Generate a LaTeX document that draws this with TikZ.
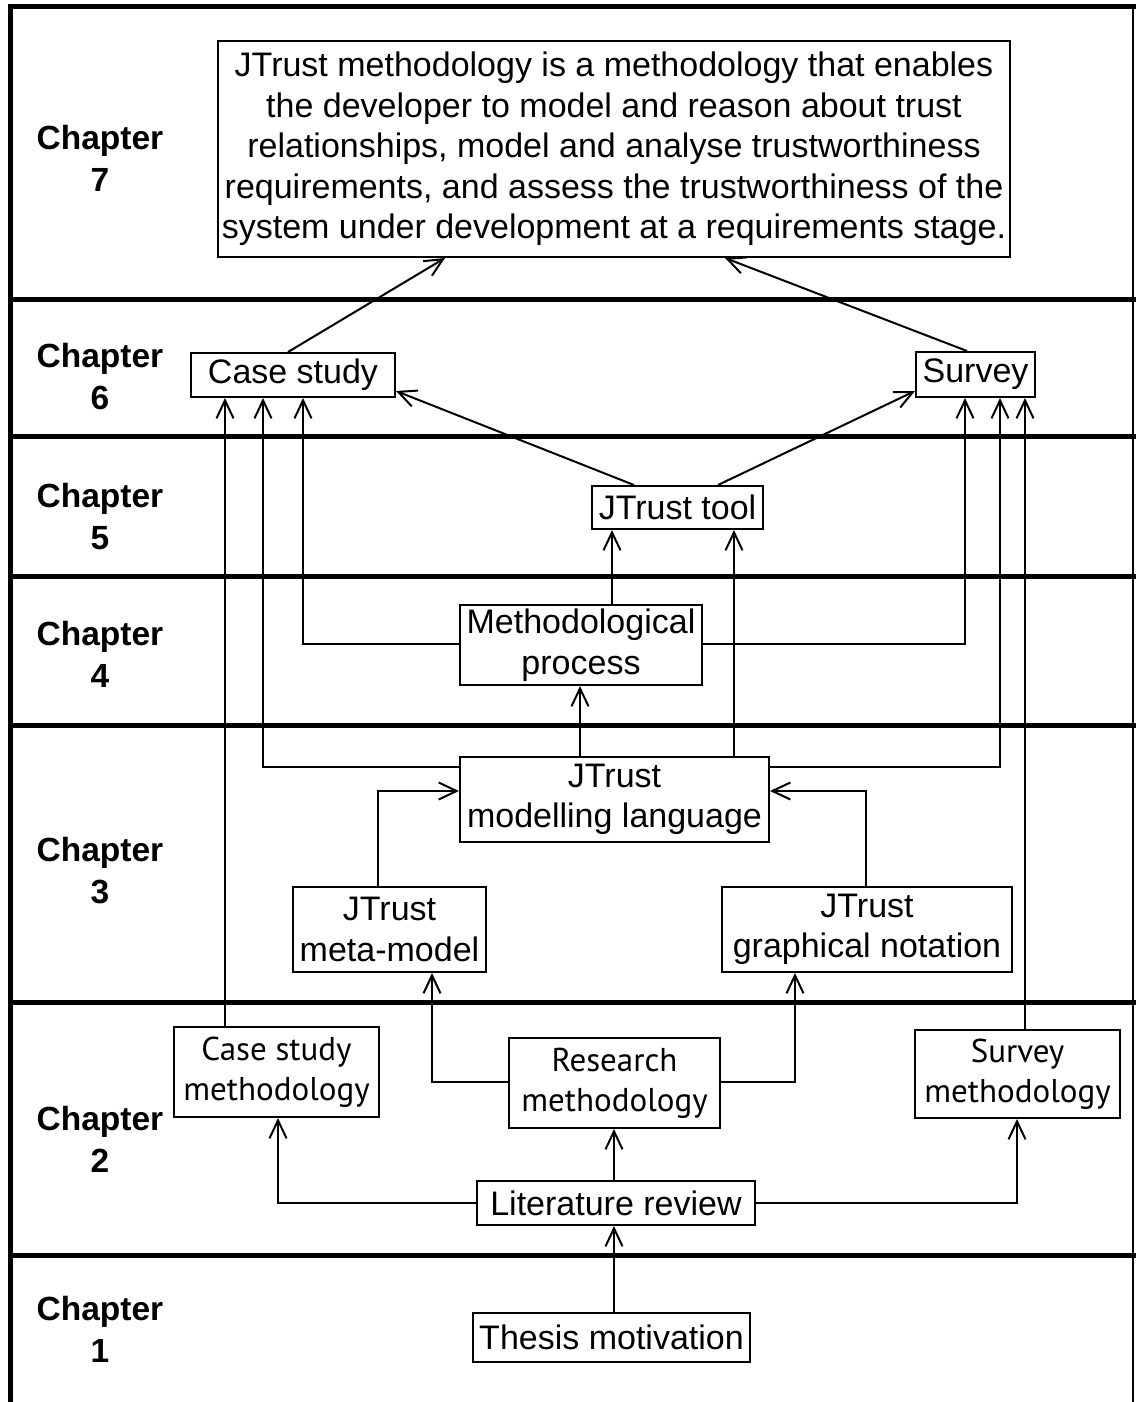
\documentclass[tikz,border=0pt]{standalone}
\usepackage{fontspec}
\setmainfont{Liberation Sans}
\newfontfamily\humanist{PT Sans}
\usetikzlibrary{arrows.meta}
\begin{document}
\begin{tikzpicture}[x=1pt,y=-1pt,
  box/.style={draw, line width=2pt, inner sep=0pt, align=center,
    font=\fontsize{34}{40.5}\selectfont},
  hbox/.style={box, font=\humanist\fontsize{33}{40}\selectfont},
  chap/.style={align=center, font=\bfseries\fontsize{33.5}{42}\selectfont},
  arr/.style={line width=2pt, -{Straight Barb[length=18pt,width=17pt]}},
  frame/.style={line width=5pt},
]
\useasboundingbox (0,0) rectangle (1136,1402);

% outer frame and chapter bands
\draw[frame] (10,1402) -- (10,7) -- (1136,7);
\draw[line width=2.5pt] (1133,7) -- (1133,1402);
\foreach \y in {299,436,576,725,1002,1255}
  \draw[frame] (8,\y) -- (1136,\y);

% chapter labels
\node[chap] (c7) at (100,158) {Chapter\\7};
\node[chap] (c6) at (100,377) {Chapter\\6};
\node[chap] (c5) at (100,517) {Chapter\\5};
\node[chap] (c4) at (100,654) {Chapter\\4};
\node[chap] (c3) at (100,871) {Chapter\\3};
\node[chap] (c2) at (100,1139) {Chapter\\2};
\node[chap] (c1) at (100,1329) {Chapter\\1};

% boxes
\node[box, minimum width=792pt, minimum height=216pt] (top) at (614,149)
  {JTrust methodology is a methodology that enables\\
   the developer to model and reason about trust\\
   relationships, model and analyse trustworthiness\\
   requirements, and assess the trustworthiness of the\\
   system under development at a requirements stage.};
\node[box, minimum width=204pt, minimum height=44pt] (cs) at (293,375) {Case study};
\node[box, minimum width=119pt, minimum height=45pt] (sv) at (975.5,374.5) {Survey};
\node[box, minimum width=171pt, minimum height=43pt] (tool) at (677.5,507.5) {JTrust tool};
\node[box, minimum width=242pt, minimum height=80pt] (mp) at (581,645) {Methodological\\process};
\node[box, minimum width=309pt, minimum height=85pt] (ml) at (614.5,799.5) {JTrust\\modelling language};
\node[box, minimum width=193pt, minimum height=85pt] (mm) at (389.5,929.5) {JTrust\\meta-model};
\node[box, minimum width=290pt, minimum height=85pt] (gn) at (867,929.5) {JTrust\\graphical notation};
\node[hbox, minimum width=205pt, minimum height=90pt] (csm) at (276.5,1072) {Case study\\methodology};
\node[hbox, minimum width=211pt, minimum height=90pt] (rm) at (614.5,1083) {Research\\methodology};
\node[hbox, minimum width=205pt, minimum height=88pt] (svm) at (1017.5,1074) {Survey\\methodology};
\node[box, minimum width=278pt, minimum height=44pt] (lr) at (616,1203) {Literature review};
\node[box, minimum width=277pt, minimum height=49pt] (tm) at (611.5,1337.5) {Thesis motivation};

% connector columns and bend points
\coordinate (ta) at (445,0);
\coordinate (tb) at (725,0);
\coordinate (csa) at (288,0);
\coordinate (sva) at (967,0);
\coordinate (k1) at (225,0);
\coordinate (k2) at (263,767);
\coordinate (k3) at (303,644);
\coordinate (s1) at (965,644);
\coordinate (s2) at (1000,767);
\coordinate (s3) at (1025,0);
\coordinate (tl) at (634,0);
\coordinate (tr) at (718,0);
\coordinate (csr) at (0,391);
\coordinate (svl) at (0,391);
\coordinate (u1) at (612,0);
\coordinate (u2) at (734,0);
\coordinate (u3) at (580,0);
\coordinate (m1) at (378,791);
\coordinate (g1) at (866,791);
\coordinate (r1) at (432,1082);
\coordinate (r2) at (795,1082);
\coordinate (l1) at (278,1203);
\coordinate (l2) at (1017,1203);
\coordinate (v) at (614,0);

% chapter 6 to chapter 7
\draw[arr] (cs.north -| csa) -- (top.south -| ta);
\draw[arr] (sv.north -| sva) -- (top.south -| tb);

% into case study
\draw[arr] (csm.north -| k1) -- (cs.south -| k1);
\draw[arr] (ml.west |- k2) -- (k2) -- (cs.south -| k2);
\draw[arr] (mp.west |- k3) -- (k3) -- (cs.south -| k3);
\draw[arr] (tool.north -| tl) -- (cs.east |- csr);

% into survey
\draw[arr] (mp.east |- s1) -- (s1) -- (sv.south -| s1);
\draw[arr] (ml.east |- s2) -- (s2) -- (sv.south -| s2);
\draw[arr] (svm.north -| s3) -- (sv.south -| s3);
\draw[arr] (tool.north -| tr) -- (sv.west |- svl);

% into JTrust tool
\draw[arr] (mp.north -| u1) -- (tool.south -| u1);
\draw[arr] (ml.north -| u2) -- (tool.south -| u2);

% into methodological process
\draw[arr] (ml.north -| u3) -- (mp.south -| u3);

% into modelling language
\draw[arr] (mm.north -| m1) -- (m1) -- (ml.west |- m1);
\draw[arr] (gn.north -| g1) -- (g1) -- (ml.east |- g1);

% from research methodology
\draw[arr] (rm.west |- r1) -- (r1) -- (mm.south -| r1);
\draw[arr] (rm.east |- r2) -- (r2) -- (gn.south -| r2);

% from literature review
\draw[arr] (lr.west |- l1) -- (l1) -- (csm.south -| l1);
\draw[arr] (lr.east |- l2) -- (l2) -- (svm.south -| l2);
\draw[arr] (lr.north -| v) -- (rm.south -| v);
\draw[arr] (tm.north -| v) -- (lr.south -| v);
\end{tikzpicture}
\end{document}
